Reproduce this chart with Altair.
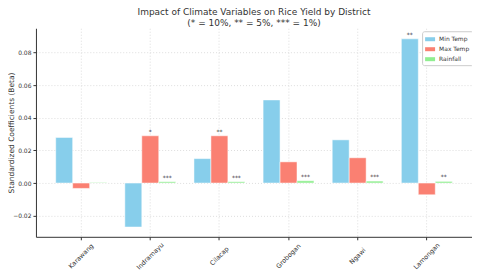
import altair as alt
import pandas as pd

districts = ["Karawang", "Indramayu", "Cilacap", "Grobogan", "Ngawi", "Lamongan"]
variables = ["Min Temp", "Max Temp", "Rainfall"]
min_temp = [0.028, -0.027, 0.015, 0.051, 0.0265, 0.0885]
max_temp = [-0.0033, 0.029, 0.029, 0.013, 0.0155, -0.0072]
rainfall = [0.0003, 0.0008, 0.0008, 0.0014, 0.0012, 0.001]
sig_min = ["", "", "", "", "", "**"]
sig_max = ["", "*", "**", "", "", ""]
sig_rain = ["", "***", "***", "***", "***", "**"]
colors = ["#87CEEB", "#FA8072", "#90EE90"]
y_ticks = [-0.02, 0.0, 0.02, 0.04, 0.06, 0.08]

rows = []
for vals, sigs, var in [(min_temp, sig_min, "Min Temp"), (max_temp, sig_max, "Max Temp"), (rainfall, sig_rain, "Rainfall")]:
    for d, v, s in zip(districts, vals, sigs):
        rows.append({"District": d, "Variable": var, "Beta": v, "Sig": s})
df = pd.DataFrame(rows)

FONT = "DejaVu Sans"

x_enc = alt.X("District:N", sort=districts, title=None,
              scale=alt.Scale(paddingInner=0.264, paddingOuter=0.286),
              axis=alt.Axis(labelAngle=-45, labelAlign="center", labelBaseline="middle",
                            labelPadding=16, tickSize=3, bandPosition=0.5,
                            grid=True, gridDash=[1, 2], gridColor="#dddddd",
                            domainColor="#333333", tickColor="#333333",
                            labelFontSize=6.5, labelColor="#333333", labelFont=FONT))
xoff = alt.XOffset("Variable:N", sort=variables, scale=alt.Scale(paddingInner=0, paddingOuter=0))
y_enc = alt.Y("Beta:Q", title="Standardized Coefficients (Beta)",
              scale=alt.Scale(domain=[-0.033, 0.095], nice=False, zero=False),
              axis=alt.Axis(values=y_ticks, format=".2f", tickSize=3, labelPadding=2,
                            grid=True, gridDash=[1, 2], gridColor="#dddddd",
                            domainColor="#333333", tickColor="#333333",
                            labelFontSize=6, labelColor="#333333", labelFont=FONT,
                            titleFontSize=7.5, titleFont=FONT, titleColor="#333333",
                            titleFontWeight="normal", titleX=-24, titleBaseline="middle"))

bars = alt.Chart(df).mark_bar(stroke="white", strokeWidth=0.5).encode(
    x=x_enc, xOffset=xoff, y=y_enc,
    color=alt.Color("Variable:N", sort=variables,
                    scale=alt.Scale(domain=variables, range=colors),
                    legend=alt.Legend(title=None, orient="none", legendX=387, legendY=3,
                                      symbolType="M-1,-0.4H1V0.4H-1Z", symbolSize=100,
                                      symbolStrokeWidth=0, labelFontSize=6, labelFont=FONT,
                                      labelColor="#333333", rowPadding=2, padding=3,
                                      strokeColor="#cccccc", fillColor="white", cornerRadius=2)),
)

texts = alt.Chart(df).mark_text(baseline="bottom", dy=-1, fontSize=6, font=FONT, color="#333333").encode(
    x=alt.X("District:N", sort=districts), xOffset=xoff, y="Beta:Q", text="Sig:N"
)

chart = alt.layer(bars, texts).properties(
    width=437, height=209, autosize="none",
    padding={"left": 28, "top": 20, "right": 0, "bottom": 45},
    title=alt.TitleParams(text=["Impact of Climate Variables on Rice Yield by District",
                                "(* = 10%, ** = 5%, *** = 1%)"],
                          fontSize=9, font=FONT, fontWeight="normal", color="#333333",
                          anchor="middle", offset=0, lineHeight=11.5),
).configure_view(stroke=None)

chart.save("out.html", embed_options={"renderer": "svg", "actions": False})
